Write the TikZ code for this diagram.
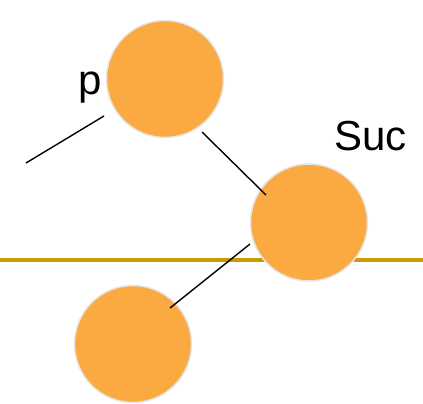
\documentclass[tikz,border=0pt]{standalone}
\usepackage{fontspec}
\setmainfont{Liberation Sans}
\definecolor{ballfill}{HTML}{FBAA42}
\definecolor{ballrim}{HTML}{E6E6E6}
\definecolor{goldline}{HTML}{CC9900}
\begin{document}
\begin{tikzpicture}[x=1pt,y=-1pt,
  ball/.style={circle,fill=ballfill,draw=ballrim,line width=1.5pt,minimum size=117pt,inner sep=0pt},
  link/.style={draw=black,line width=1.4pt},
  lbl/.style={font=\fontsize{42}{42}\selectfont,inner sep=0pt,anchor=base west}]
\useasboundingbox (0,0) rectangle (423,404);
\coordinate (hl) at (0,259.7);
\coordinate (hr) at (423,259.7);
\draw[draw=goldline,line width=4pt] (hl) -- (hr);
\node[ball] (c1) at (165,79) {};
\node[ball] (c2) at (309,222.5) {};
\node[ball] (c3) at (133,344) {};
\node[lbl] (p) at (78,94) {p};
\node[lbl] (suc) at (334,150) {Suc};
\coordinate (f1) at (26,163);
\coordinate (f2) at (104,116);
\coordinate (a1) at (202,132);
\coordinate (a2) at (266,195);
\coordinate (b1) at (250,244);
\coordinate (b2) at (170,308);
\draw[link] (f1) -- (f2);
\draw[link] (a1) -- (a2);
\draw[link] (b1) -- (b2);
\end{tikzpicture}
\end{document}
